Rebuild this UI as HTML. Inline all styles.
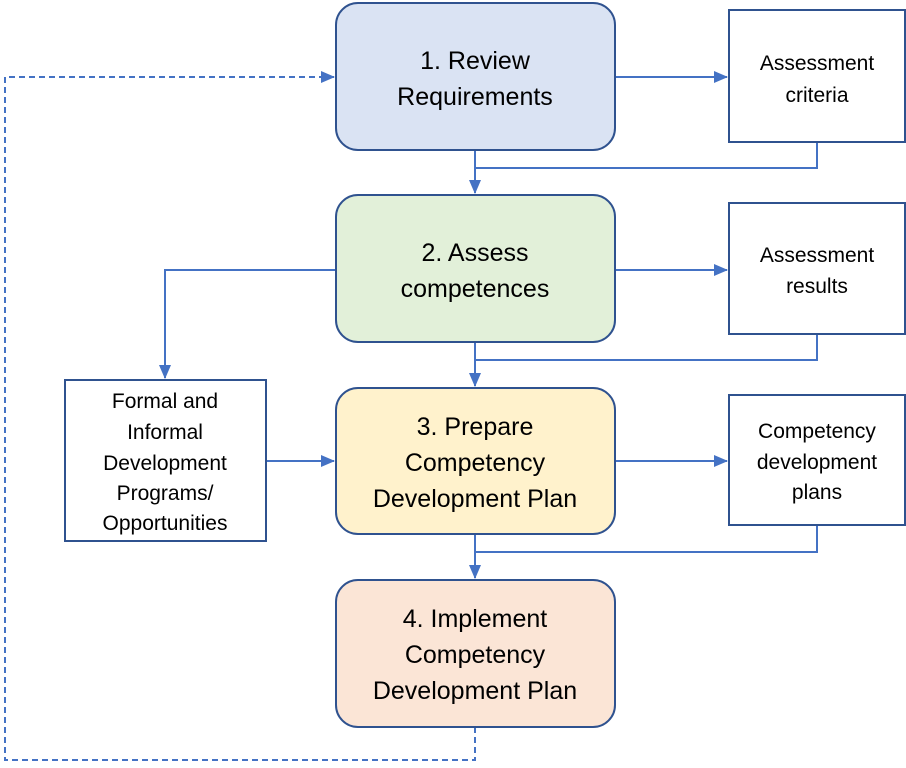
<!DOCTYPE html>
<html><head><meta charset="utf-8"><style>
html,body{margin:0;padding:0;background:#fff;}
svg{display:block;}
text{font-family:"Liberation Sans",sans-serif;fill:#000;text-anchor:middle;}
</style></head><body>
<svg width="906" height="768" viewBox="0 0 906 768" xmlns="http://www.w3.org/2000/svg">
<defs>
<marker id="a" markerWidth="14" markerHeight="12" refX="13" refY="6" orient="auto" markerUnits="userSpaceOnUse">
<path d="M0,0 L14,6 L0,12 z" fill="#4472c4"/></marker>
</defs>
<g fill="none" stroke="#4472c4" stroke-width="2">
<path d="M475,727 V760 H5 V77 H334" stroke-dasharray="6,4" marker-end="url(#a)"/>
<path d="M615,77 H727" marker-end="url(#a)"/>
<path d="M475,150 V193" marker-end="url(#a)"/>
<path d="M817,142 V168 H475"/>
<path d="M336,270 H165 V378" marker-end="url(#a)"/>
<path d="M615,270 H727" marker-end="url(#a)"/>
<path d="M475,342 V386" marker-end="url(#a)"/>
<path d="M817,334 V360 H475"/>
<path d="M266,461 H334" marker-end="url(#a)"/>
<path d="M615,461 H727" marker-end="url(#a)"/>
<path d="M475,534 V578" marker-end="url(#a)"/>
<path d="M817,525 V552 H475"/>
</g>
<g stroke="#2f528f" stroke-width="2">
<rect x="336" y="3" width="279" height="147" rx="22" fill="#dae3f3"/>
<rect x="336" y="195" width="279" height="147" rx="22" fill="#e2f0d9"/>
<rect x="336" y="388" width="279" height="146" rx="22" fill="#fff2cc"/>
<rect x="336" y="580" width="279" height="147" rx="22" fill="#fbe5d6"/>
<rect x="729" y="10" width="176" height="132" fill="#fff"/>
<rect x="729" y="203" width="176" height="131" fill="#fff"/>
<rect x="729" y="395" width="176" height="130" fill="#fff"/>
<rect x="65" y="380" width="201" height="161" fill="#fff"/>
</g>
<g font-size="25">
<text x="475" y="69">1. Review</text><text x="475" y="105">Requirements</text>
<text x="475" y="261">2. Assess</text><text x="475" y="297">competences</text>
<text x="475" y="435">3. Prepare</text><text x="475" y="471">Competency</text><text x="475" y="507">Development Plan</text>
<text x="475" y="627">4. Implement</text><text x="475" y="663">Competency</text><text x="475" y="699">Development Plan</text>
</g>
<g font-size="21">
<text x="817" y="70">Assessment</text><text x="817" y="102">criteria</text>
<text x="817" y="262">Assessment</text><text x="817" y="293">results</text>
<text x="817" y="438">Competency</text><text x="817" y="469">development</text><text x="817" y="499">plans</text>
<text x="165" y="408">Formal and</text><text x="165" y="439">Informal</text><text x="165" y="470">Development</text><text x="165" y="500">Programs/</text><text x="165" y="530">Opportunities</text>
</g>
</svg>
</body></html>
